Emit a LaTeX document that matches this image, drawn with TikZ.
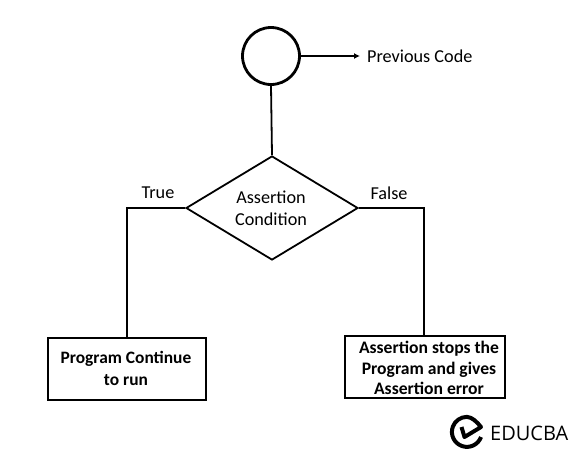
\documentclass[tikz,border=0pt]{standalone}
\usepackage{fontspec}
\setmainfont{Carlito}
\newfontfamily\logofont{Open Sans}
\usetikzlibrary{shapes.geometric,arrows.meta}
\tikzset{
  ln/.style={line width=1.8pt,black},
  lbl/.style={font=\fontsize{18.2}{22}\selectfont,inner sep=0pt},
  procbox/.style={draw,line width=2.6pt,fill=white,inner sep=0pt},
}
\begin{document}
\begin{tikzpicture}[x=1pt,y=-1pt]
\useasboundingbox (0,0) rectangle (588,464);
\fill[white] (0,0) rectangle (588,464);
\node[circle,draw,line width=2.8pt,minimum size=57pt,inner sep=0pt] (start) at (271,56) {};
\node[diamond,draw,line width=1.8pt,minimum width=172pt,minimum height=104pt,inner sep=0pt,aspect=1.65] (cond) at (272,208) {};
\node[align=center,inner sep=0pt,font=\fontsize{18.2}{22}\selectfont] (condt) at (271,208) {Assertion\\Condition};
\node[procbox,minimum width=158pt,minimum height=62pt] (left) at (127,369) {};
\node[procbox,minimum width=160pt,minimum height=62pt] (right) at (425,367) {};
\node[align=center,inner sep=0pt,font=\bfseries\fontsize{17.4}{22}\selectfont] (lt) at (126,368) {Program Continue\\to run};
\node[align=center,inner sep=0pt,font=\bfseries\fontsize{17.6}{20.5}\selectfont] (rt) at (429,368) {Assertion stops the\\Program and gives\\Assertion error};
\node[lbl,anchor=west] (prev) at (367,56.5) {Previous Code};
\node[lbl] (true) at (158,193) {True};
\node[lbl] (false) at (389,193) {False};
\draw[ln,-{Latex[length=6pt,width=6pt]}] (start.east) -- (360,56);
\draw[ln] (start.south) -- (cond.north);
\draw[ln] (cond.west) -- (127,208) -- (left.north);
\draw[ln] (cond.east) -- (424,208) -- (424,335.5);
% logo
\draw[line width=4pt,black,line join=round] (481,437) arc (-20:-270:15pt) .. controls (472,417) and (477,422) .. (481,427) -- (464.5,437) -- (461.5,427);
\node[anchor=west,inner sep=0pt,font=\logofont\fontsize{20}{24}\selectfont] (logo) at (490,433) {EDUCBA};
\end{tikzpicture}
\end{document}
